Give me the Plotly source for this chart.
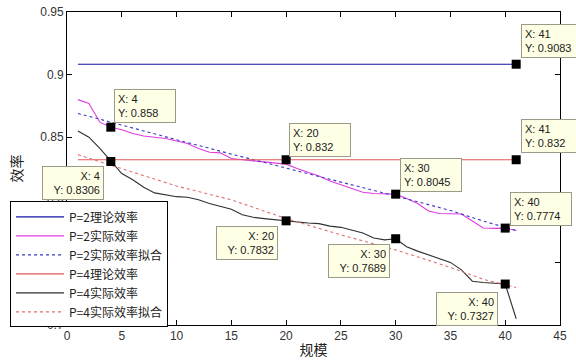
import plotly.graph_objects as go

# ---------------- data ----------------
x_scale = list(range(1, 42))

p2_theory = [0.9083] * 41
p4_theory = [0.832] * 41

p2_actual = [0.880, 0.877, 0.862, 0.858, 0.856, 0.853, 0.851, 0.850, 0.849, 0.847,
             0.845, 0.841, 0.838, 0.8375, 0.833, 0.832, 0.831, 0.830, 0.829, 0.8285,
             0.825, 0.822, 0.819, 0.815, 0.812, 0.809, 0.806, 0.805, 0.8047, 0.8045,
             0.801, 0.797, 0.791, 0.789, 0.7888, 0.7887, 0.783, 0.7775, 0.7772, 0.7774,
             0.7755]

p4_actual = [0.855, 0.850, 0.841, 0.8306, 0.821, 0.816, 0.810, 0.8055, 0.804, 0.8025,
             0.802, 0.800, 0.797, 0.795, 0.7925, 0.788, 0.786, 0.785, 0.784, 0.7832,
             0.782, 0.7815, 0.781, 0.779, 0.778, 0.776, 0.7735, 0.7695, 0.768, 0.7689,
             0.7625, 0.759, 0.756, 0.7525, 0.750, 0.744, 0.735, 0.734, 0.7332, 0.7327,
             0.705]

fit_x = [1, 5, 10, 15, 20, 25, 30, 35, 38, 41]
p2_fit = [0.869, 0.8595, 0.848, 0.8365, 0.8255, 0.814, 0.803, 0.7915, 0.783, 0.7755]
p4_fit = [0.836, 0.825, 0.811, 0.800, 0.785, 0.772, 0.760, 0.746, 0.7365, 0.730]

names = ["P=2理论效率", "P=2实际效率", "P=2实际效率拟合",
         "P=4理论效率", "P=4实际效率", "P=4实际效率拟合"]

# data tips
tip_x = [4, 4, 20, 20, 30, 30, 40, 40, 41, 41]
tip_y = [0.858, 0.8306, 0.832, 0.7832, 0.8045, 0.7689, 0.7774, 0.7327, 0.9083, 0.832]
tip_lbl = ["0.858", "0.8306", "0.832", "0.7832", "0.8045", "0.7689", "0.7774", "0.7327",
           "0.9083", "0.832"]
# placement: (side, xshift, yshift)
tip_place = [("r", 3, 4), ("l", -7, -5), ("r", 3, 3), ("l", -8, -5), ("r", 4, 2),
             ("l", -6, -5), ("r", 5, 2), ("l", -7, -8), ("r", 5, 6), ("r", 5, 7)]

# ---------------- figure ----------------
fig = go.Figure()
styles = [
    (x_scale, p2_theory, "#1414a8", "solid"),
    (x_scale, p2_actual, "#e03ce0", "solid"),
    (fit_x, p2_fit, "#3a3ac8", "dot"),
    (x_scale, p4_theory, "#e05858", "solid"),
    (x_scale, p4_actual, "#303030", "solid"),
    (fit_x, p4_fit, "#e07070", "dot"),
]
for nm, (xs, ys, col, dash) in zip(names, styles):
    fig.add_trace(go.Scatter(x=xs, y=ys, mode="lines", name=nm,
                             line=dict(color=col, width=1.1, dash=dash)))

fig.add_trace(go.Scatter(x=tip_x, y=tip_y, mode="markers", showlegend=False,
                         marker=dict(symbol="square", size=9, color="black")))

for tx, ty, lb, (side, xs, ys) in zip(tip_x, tip_y, tip_lbl, tip_place):
    right = side == "r"
    fig.add_annotation(
        x=tx, y=ty, xref="x", yref="y", showarrow=False,
        text=f"X: {tx}<br>Y: {lb}",
        xanchor="left" if right else "right",
        yanchor="bottom" if right else "top",
        xshift=xs, yshift=ys,
        align="left" if right else "right",
        width=54, height=26, borderpad=3,
        bgcolor="#ffffe6", bordercolor="#9a9a88", borderwidth=1,
        font=dict(family="Liberation Sans, Arial", size=11, color="#222"),
    )

axis_common = dict(showline=True, linecolor="black", linewidth=1, mirror="allticks",
                   ticks="inside", ticklen=5, tickcolor="black", showgrid=False,
                   zeroline=False,
                   tickfont=dict(family="Liberation Sans, Arial", size=12, color="#333"))

fig.update_xaxes(range=[0, 45], dtick=5, tick0=0,
                 title=dict(text="规模", standoff=2,
                            font=dict(family="Noto Sans CJK SC", size=14, color="#222")),
                 **axis_common)
fig.update_yaxes(range=[0.7, 0.95], dtick=0.05, tick0=0.7,
                 title=dict(text="效率", standoff=14,
                            font=dict(family="Noto Sans CJK SC", size=14, color="#222")),
                 **axis_common)

fig.update_layout(
    width=576, height=363,
    margin=dict(l=67, r=16, t=12, b=38, autoexpand=False),
    paper_bgcolor="white", plot_bgcolor="white",
    legend=dict(x=-0.1156, y=0.395, xanchor="left", yanchor="top",
                bgcolor="white", bordercolor="black", borderwidth=1,
                font=dict(family="Noto Sans CJK SC", size=12, color="#222"),
                tracegroupgap=0, itemwidth=48),
)

fig.write_html("out.html")
